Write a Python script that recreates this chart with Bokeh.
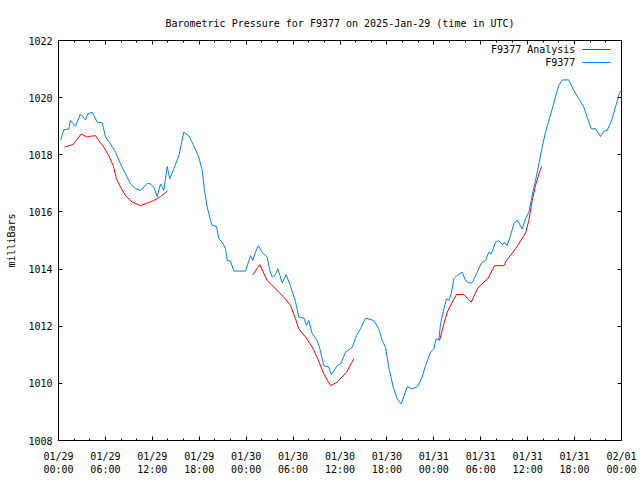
from bokeh.plotting import figure
from bokeh.models import FixedTicker, LinearAxis, Label, Range1d, CustomJSTickFormatter
from bokeh.embed import file_html
from bokeh.resources import INLINE

nan = float("nan")

# Hours since 2025-01-29 00:00 UTC
blue_hours = [0.26, 0.68, 1.32, 1.53, 2.17, 2.81, 3.45, 3.75, 4.31, 4.95, 5.59, 6.01, 6.65, 7.29,
              7.93, 8.57, 9.21, 9.85, 10.49, 11.34, 11.77, 12.19, 12.62, 13.05, 13.47, 13.9, 14.23,
              14.75, 15.39, 16.02, 16.66, 17.30, 17.94, 18.38, 18.67, 19.02, 19.44, 19.66, 20.21,
              20.5, 20.94, 21.36, 21.58, 22.0, 22.42, 23.92, 24.56, 24.85, 25.19, 25.54, 26.05,
              26.69, 27.02, 27.33, 27.75, 28.05, 28.61, 29.12, 29.67, 30.31, 30.73, 31.37, 31.72,
              32.01, 32.45, 33.09, 33.42, 33.93, 34.57, 34.88, 35.64, 36.07, 36.71, 37.56, 38.11,
              38.62, 39.26, 40.32, 40.96, 41.4, 41.82, 42.24, 42.81, 43.32, 43.83, 44.6, 45.24,
              45.95, 46.51, 46.94, 47.58, 48.0, 48.3, 48.64, 48.86, 49.28, 49.62, 49.92, 50.22,
              50.56, 50.99, 51.63, 52.05, 52.47, 52.91, 53.55, 54.06, 54.61, 55.03, 55.34, 55.89,
              56.31, 56.75, 57.04, 57.38, 57.81, 58.23, 58.66, 59.3, 59.73, 60.15, 60.58, 61.0,
              61.43, 61.86, 62.28, 62.71, 63.14, 63.56, 63.98, 64.42, 65.26, 65.9, 66.54, 67.18,
              67.61, 68.13, 68.68, 69.32, 69.74, 70.17, 70.81, 71.23, 71.78, 72.0]
blue_mb = [1018.52, 1018.87, 1018.9, 1019.2, 1019.0, 1019.43, 1019.22, 1019.43, 1019.49, 1019.14,
           1019.12, 1018.62, 1018.38, 1018.09, 1017.68, 1017.33, 1016.98, 1016.81, 1016.75, 1017.0,
           1016.98, 1016.86, 1016.54, 1016.98, 1016.75, 1017.59, 1017.16, 1017.51, 1017.97,
           1018.79, 1018.67, 1018.32, 1017.92, 1017.45, 1016.75, 1016.17, 1015.7, 1015.53, 1015.49,
           1015.06, 1014.94, 1014.71, 1014.3, 1014.28, 1013.93, 1013.93, 1014.47, 1014.3, 1014.59,
           1014.82, 1014.59, 1014.42, 1013.95, 1013.72, 1013.81, 1014.01, 1013.52, 1013.8, 1013.4,
           1012.86, 1012.32, 1012.29, 1012.03, 1012.2, 1011.73, 1011.5, 1011.21, 1010.62, 1010.57,
           1010.31, 1010.62, 1010.68, 1011.09, 1011.26, 1011.67, 1011.91, 1012.28, 1012.2, 1011.91,
           1011.5, 1011.26, 1010.56, 1009.86, 1009.46, 1009.28, 1009.89, 1009.81, 1009.89, 1010.22,
           1010.62, 1011.09, 1011.21, 1011.56, 1011.52, 1012.08, 1012.61, 1012.96, 1012.9, 1013.13,
           1013.66, 1013.78, 1013.89, 1013.6, 1013.52, 1013.52, 1013.89, 1014.2, 1014.3, 1014.59,
           1014.53, 1014.94, 1015.0, 1014.85, 1014.94, 1014.82, 1015.18, 1015.58, 1015.72, 1015.41,
           1015.76, 1015.99, 1016.58, 1017.1, 1017.68, 1018.27, 1018.79, 1019.2, 1019.61, 1020.02,
           1020.43, 1020.62, 1020.62, 1020.25, 1019.96, 1019.67, 1019.32, 1018.91, 1018.91,
           1018.64, 1018.83, 1018.85, 1019.26, 1019.67, 1020.19, 1020.25]

red_hours = [0.77, 1.53, 1.88, 2.9, 3.67, 4.09, 4.73, 5.15, 5.79, 6.43, 7.0, 7.42, 7.93, 8.57,
             9.43, 10.49, 11.34, 12.19, 13.05, 13.9, nan,
             24.85, 25.74, 26.69, 28.81, 29.67, 30.31, 30.73, 31.59, 32.45, 33.16, 33.93, 34.79,
             35.64, 36.83, 37.77, nan,
             48.73, 49.28, 49.71, 50.35, 50.9, 51.84, 52.78, 53.63, 54.39, 54.9, 55.76, 56.95,
             57.3, 58.45, 59.73, 60.15, 60.58, 61.0, 61.43, 61.79]
red_mb = [1018.27, 1018.33, 1018.36, 1018.73, 1018.62, 1018.65, 1018.67, 1018.5, 1018.27, 1017.97,
          1017.62, 1017.16, 1016.87, 1016.57, 1016.34, 1016.22, 1016.31, 1016.4, 1016.54, 1016.73, nan,
          1013.8, 1014.16, 1013.6, 1013.02, 1012.73, 1012.26, 1011.91, 1011.62, 1011.27, 1010.86,
          1010.33, 1009.92, 1010.04, 1010.39, 1010.86, nan,
          1011.5, 1012.08, 1012.49, 1012.84, 1013.11, 1013.11, 1012.84, 1013.34, 1013.54, 1013.66,
          1014.12, 1014.12, 1014.3, 1014.71, 1015.26, 1015.7, 1016.4, 1016.92, 1017.33, 1017.59]

x_tick_hours = [0, 6, 12, 18, 24, 30, 36, 42, 48, 54, 60, 66, 72]
x_tick_labels = ["01/29\n00:00", "01/29\n06:00", "01/29\n12:00", "01/29\n18:00",
                 "01/30\n00:00", "01/30\n06:00", "01/30\n12:00", "01/30\n18:00",
                 "01/31\n00:00", "01/31\n06:00", "01/31\n12:00", "01/31\n18:00",
                 "02/01\n00:00"]
y_ticks = [1008, 1010, 1012, 1014, 1016, 1018, 1020, 1022]
series_names = ["F9377 Analysis", "F9377"]

FONT = "DejaVu Sans Mono"
FS = "10px"
RED = "#ff0000"
BLUE = "#0080ff"

p = figure(width=640, height=480, output_backend="svg", toolbar_location=None,
           x_range=Range1d(0, 72), y_range=Range1d(1008, 1022),
           min_border_left=58, min_border_right=19, min_border_top=40, min_border_bottom=40,
           x_axis_location=None, y_axis_location=None)
p.title.text = "Barometric Pressure for F9377 on 2025-Jan-29 (time in UTC)"
p.title.align = "center"
p.title.text_font = FONT
p.title.text_font_size = FS
p.title.text_font_style = "normal"
p.title.text_color = "black"
p.title.standoff = 23

p.xgrid.visible = False
p.ygrid.visible = False
p.outline_line_color = "black"
p.outline_line_width = 1
p.background_fill_color = "white"
p.border_fill_color = "white"

minor_x = list(range(0, 73, 2))
blank = CustomJSTickFormatter(code="return '';")

def style_axis(ax, labels=True, ticker=None):
    ax.ticker = ticker
    ax.axis_line_color = "black"
    ax.major_tick_line_color = "black"
    ax.minor_tick_line_color = "black"
    ax.major_tick_out = 0
    ax.minor_tick_out = 0
    ax.major_label_text_font = FONT
    ax.major_label_text_font_size = FS
    ax.major_label_text_color = "black"
    if not labels:
        ax.formatter = blank
        ax.major_label_standoff = 0

xb = LinearAxis()
style_axis(xb, True, FixedTicker(ticks=x_tick_hours, minor_ticks=minor_x))
xb.major_tick_in = 4
xb.minor_tick_in = 2
xb.major_label_overrides = {h: l for h, l in zip(x_tick_hours, x_tick_labels)}
xb.major_label_standoff = 10
xb.major_label_text_line_height = 1.25
p.add_layout(xb, "below")

xt = LinearAxis()
style_axis(xt, False, FixedTicker(ticks=x_tick_hours, minor_ticks=minor_x))
xt.major_tick_in = 4
xt.minor_tick_in = 2
p.add_layout(xt, "above")

yl = LinearAxis()
style_axis(yl, True, FixedTicker(ticks=y_ticks, minor_ticks=[]))
yl.major_tick_in = 4
yl.minor_tick_in = 0
yl.major_label_standoff = 6
yl.axis_label = "milliBars"
yl.axis_label_text_font = FONT
yl.axis_label_text_font_size = FS
yl.axis_label_text_font_style = "normal"
yl.axis_label_text_color = "black"
yl.axis_label_standoff = 8
p.add_layout(yl, "left")

yr = LinearAxis()
style_axis(yr, False, FixedTicker(ticks=y_ticks, minor_ticks=[]))
yr.major_tick_in = 4
yr.minor_tick_in = 0
p.add_layout(yr, "right")

p.line(red_hours, red_mb, line_color=RED, line_width=1)
p.line(blue_hours, blue_mb, line_color=BLUE, line_width=1)

# legend (gnuplot style: text on the left, sample on the right)
leg_y = [1021.685, 1021.23]
for name, col, yy in zip(series_names, [RED, BLUE], leg_y):
    p.add_layout(Label(x=66.1, y=yy, text=name, text_align="right", text_baseline="middle",
                       text_font=FONT, text_font_size=FS, text_color="black"))
    p.segment(x0=[67.0], y0=[yy], x1=[70.6], y1=[yy], line_color=col, line_width=1)

open("out.html", "w").write(file_html(p, INLINE))
